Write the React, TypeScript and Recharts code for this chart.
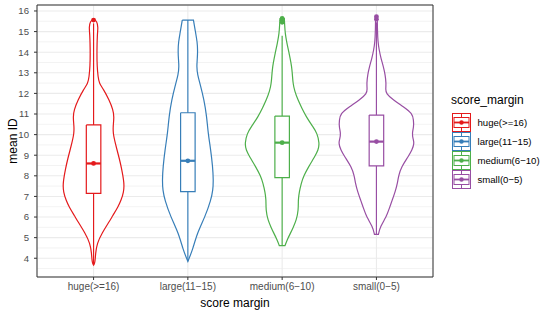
import React from 'react';
import {
  ScatterChart,
  Scatter,
  XAxis,
  YAxis,
  CartesianGrid,
  ReferenceArea,
} from 'recharts';

// --- Data ---
const categories = ['huge(>=16)', 'large(11\u221215)', 'medium(6\u221210)', 'small(0\u22125)'];
const colors = ['#E41A1C', '#377EB8', '#4DAF4A', '#984EA3'];

const yTicks = [4, 5, 6, 7, 8, 9, 10, 11, 12, 13, 14, 15, 16];
const yMinor = [3.5, 4.5, 5.5, 6.5, 7.5, 8.5, 9.5, 10.5, 11.5, 12.5, 13.5, 14.5, 15.5];

// violin profiles: [mean ID, half width in category units], top to bottom
const hugeViolin: [number, number][] = [
  [15.6, 0], [15.5, 0.037], [15.2, 0.048], [14.9, 0.04], [14.1, 0.035], [13.3, 0.037],
  [12.8, 0.048], [12.49, 0.059], [12.2, 0.106], [11.68, 0.165], [11.2, 0.207], [10.87, 0.218],
  [10.4, 0.207], [10.06, 0.207], [9.6, 0.229], [8.77, 0.277], [8.44, 0.293], [7.63, 0.327],
  [7.2, 0.319], [6.83, 0.293], [6.5, 0.261], [6.02, 0.197], [5.85, 0.176], [5.21, 0.088],
  [4.72, 0.037], [4.24, 0.021], [3.8, 0.016], [3.67, 0],
];
const largeViolin: [number, number][] = [
  [15.56, 0.059], [15.3, 0.069], [14.92, 0.083], [14.5, 0.099], [14.11, 0.104], [13.7, 0.101],
  [13.3, 0.093], [12.9, 0.103], [12.49, 0.128], [11.68, 0.172], [10.87, 0.2], [10.06, 0.215],
  [9.25, 0.243], [8.44, 0.263], [7.8, 0.271], [7.3, 0.266], [6.83, 0.245], [6.02, 0.183],
  [5.21, 0.098], [4.4, 0.05], [3.85, 0],
];
const mediumViolin: [number, number][] = [
  [15.64, 0.023], [15.3, 0.027], [14.92, 0.032], [14.5, 0.048], [14.11, 0.066], [13.7, 0.085],
  [13.3, 0.101], [12.9, 0.109], [12.49, 0.115], [12.1, 0.133], [11.68, 0.168], [11.3, 0.207],
  [10.87, 0.255], [10.4, 0.324], [10.06, 0.372], [9.58, 0.396], [9.25, 0.383], [8.93, 0.346],
  [8.44, 0.28], [8.0, 0.229], [7.63, 0.202], [7.2, 0.181], [6.83, 0.17], [6.34, 0.173],
  [5.85, 0.151], [5.5, 0.117], [5.21, 0.088], [4.9, 0.053], [4.61, 0.03],
];
const smallViolin: [number, number][] = [
  [15.72, 0.009], [15.0, 0.011], [14.5, 0.016], [14.11, 0.029], [13.7, 0.048], [13.3, 0.074],
  [12.9, 0.093], [12.49, 0.103], [12.2, 0.098], [12.0, 0.101], [11.68, 0.178], [11.35, 0.287],
  [11.03, 0.381], [10.7, 0.394], [10.38, 0.396], [10.06, 0.378], [9.8, 0.388], [9.58, 0.402],
  [9.25, 0.378], [8.93, 0.337], [8.44, 0.266], [8.0, 0.234], [7.63, 0.223], [7.2, 0.197],
  [6.83, 0.168], [6.4, 0.135], [6.02, 0.106], [5.53, 0.04], [5.16, 0.021],
];
const violins = [hugeViolin, largeViolin, mediumViolin, smallViolin];

// boxplot stats per category
const whiskerLow = [3.67, 3.85, 4.61, 5.16];
const boxQ1 = [7.15, 7.23, 7.91, 8.48];
const boxMedian = [8.6, 8.73, 9.61, 9.66];
const boxQ3 = [10.47, 11.06, 10.9, 10.95];
const whiskerHigh = [15.4, 15.56, 14.8, 15.45];
const outliers = [[15.56], [], [15.45, 15.55, 15.64], [15.6, 15.72]];

// --- Layout ---
const W = 554;
const H = 313;
const Y_DOMAIN: [number, number] = [3.09, 16.29];
const X_DOMAIN: [number, number] = [0.4, 4.6];
const BOX_HALF = 0.077;
const FONT = '"Liberation Sans", Arial, Helvetica, sans-serif';

type Pt = { x: number; y: number };

function violinOutline(profile: [number, number][], c: number): Pt[] {
  const pts: Pt[] = [];
  const n = profile.length;
  const push = (x: number, y: number, k: number) => {
    for (let i = 0; i < k; i++) pts.push({ x, y });
  };
  for (let i = 0; i < n; i++) {
    const k = i === 0 || i === n - 1 ? 3 : 1;
    push(c - profile[i][1], profile[i][0], k);
  }
  for (let i = n - 1; i >= 0; i--) {
    const k = i === 0 || i === n - 1 ? 3 : 1;
    push(c + profile[i][1], profile[i][0], k);
  }
  push(c - profile[0][1], profile[0][0], 3);
  return pts;
}

const noDot = () => <g />;

function LegendKey({ color }: { color: string }) {
  return (
    <svg width={19} height={19} style={{ display: 'block' }}>
      <rect x={0.5} y={0.5} width={18} height={18} fill="#fff" stroke={color} strokeWidth={1} />
      <line x1={9.5} y1={1} x2={9.5} y2={18} stroke={color} strokeWidth={1} />
      <rect x={2} y={4.5} width={15} height={10} fill="#fff" stroke={color} strokeWidth={1} />
      <line x1={2} y1={9.5} x2={17} y2={9.5} stroke={color} strokeWidth={1.8} />
      <circle cx={9.5} cy={9.5} r={2.2} fill={color} />
    </svg>
  );
}

export default function App() {
  const series: React.ReactNode[] = [];
  categories.forEach((name, i) => {
    const c = i + 1;
    const color = colors[i];
    series.push(
      <Scatter
        key={`v${i}`}
        name={name}
        data={violinOutline(violins[i], c)}
        line={{ stroke: color, strokeWidth: 1.2, fill: '#fff' }}
        lineJointType="basis"
        shape={noDot}
        isAnimationActive={false}
      />,
      <Scatter
        key={`w${i}`}
        data={[{ x: c, y: whiskerLow[i] }, { x: c, y: whiskerHigh[i] }]}
        line={{ stroke: color, strokeWidth: 1.2 }}
        shape={noDot}
        isAnimationActive={false}
      />,
      <Scatter
        key={`b${i}`}
        data={[
          { x: c - BOX_HALF, y: boxQ3[i] },
          { x: c + BOX_HALF, y: boxQ3[i] },
          { x: c + BOX_HALF, y: boxQ1[i] },
          { x: c - BOX_HALF, y: boxQ1[i] },
          { x: c - BOX_HALF, y: boxQ3[i] },
        ]}
        line={{ stroke: color, strokeWidth: 1.2, fill: '#fff' }}
        shape={noDot}
        isAnimationActive={false}
      />,
      <Scatter
        key={`m${i}`}
        data={[{ x: c - BOX_HALF, y: boxMedian[i] }, { x: c + BOX_HALF, y: boxMedian[i] }]}
        line={{ stroke: color, strokeWidth: 2.2 }}
        shape={noDot}
        isAnimationActive={false}
      />,
      <Scatter
        key={`p${i}`}
        data={[{ x: c, y: boxMedian[i] }, ...outliers[i].map((y) => ({ x: c, y }))]}
        shape={(p: any) => <circle cx={p.cx} cy={p.cy} r={2.4} fill={color} />}
        isAnimationActive={false}
      />
    );
  });

  return (
    <div style={{ position: 'relative', width: W, height: H, fontFamily: FONT }}>
      <style>{'body{margin:0}'}</style>
      <ScatterChart width={W} height={H} margin={{ top: 5, right: 121, bottom: 0, left: 0 }}>
        <CartesianGrid yAxisId="minor" vertical={false} stroke="#EBEBEB" strokeWidth={0.6} />
        <CartesianGrid stroke="#EBEBEB" strokeWidth={1.1} />
        <XAxis
          type="number"
          dataKey="x"
          domain={X_DOMAIN}
          ticks={[1, 2, 3, 4]}
          interval={0}
          allowDataOverflow
          tickFormatter={(v: number) => categories[v - 1]}
          height={36}
          axisLine={false}
          tickSize={3}
          tickMargin={3}
          tickLine={{ stroke: '#333333' }}
          tick={{ fill: '#4D4D4D', fontSize: 10, fontFamily: FONT }}
          label={{
            value: 'score margin',
            position: 'insideBottom',
            offset: 6,
            style: { fill: '#000', fontSize: 12, fontFamily: FONT },
          }}
        />
        <YAxis
          type="number"
          dataKey="y"
          domain={Y_DOMAIN}
          ticks={yTicks}
          interval={0}
          allowDataOverflow
          width={37}
          axisLine={false}
          tickSize={3}
          tickMargin={5}
          tickLine={{ stroke: '#333333' }}
          tick={{ fill: '#4D4D4D', fontSize: 9.6, fontFamily: FONT }}
          label={{
            value: 'mean ID',
            angle: -90,
            position: 'insideLeft',
            offset: 13,
            style: { fill: '#000', fontSize: 12, fontFamily: FONT, textAnchor: 'middle' },
          }}
        />
        <YAxis
          yAxisId="minor"
          type="number"
          domain={Y_DOMAIN}
          ticks={yMinor}
          interval={0}
          allowDataOverflow
          hide
        />
        {series}
        <ReferenceArea
          x1={X_DOMAIN[0]}
          x2={X_DOMAIN[1]}
          y1={Y_DOMAIN[0]}
          y2={Y_DOMAIN[1]}
          fill="none"
          stroke="#333333"
          strokeWidth={1}
          ifOverflow="visible"
        />
      </ScatterChart>
      <div style={{ position: 'absolute', left: 451, top: 93, fontSize: 12, lineHeight: '15px', color: '#000' }}>
        score_margin
      </div>
      {categories.map((name, i) => (
        <div
          key={name}
          style={{ position: 'absolute', left: 451.5, top: 112.5 + i * 19, height: 19, display: 'flex', alignItems: 'center' }}
        >
          <LegendKey color={colors[i]} />
          <span style={{ marginLeft: 7, fontSize: 9.6, color: '#000' }}>{name}</span>
        </div>
      ))}
    </div>
  );
}
